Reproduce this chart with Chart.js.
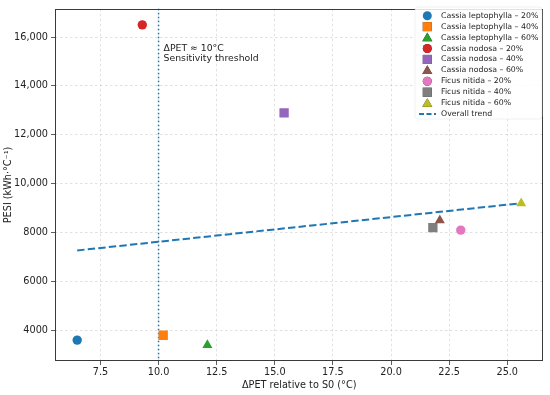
<!DOCTYPE html>
<html>
<head>
<meta charset="utf-8">
<script src="https://cdn.jsdelivr.net/npm/chart.js@4.4.1/dist/chart.umd.min.js"></script>
<style>
  html, body { margin: 0; padding: 0; background: #fff; }
  #wrap { width: 550px; height: 395px; }
</style>
</head>
<body>
<div id="wrap"><canvas id="c" width="550" height="395"></canvas></div>
<script>
// ---- data ----
const seriesLabels = [
  'Cassia leptophylla – 20%', 'Cassia leptophylla – 40%', 'Cassia leptophylla – 60%',
  'Cassia nodosa – 20%', 'Cassia nodosa – 40%', 'Cassia nodosa – 60%',
  'Ficus nitida – 20%', 'Ficus nitida – 40%', 'Ficus nitida – 60%'
];
const deltaPET = [6.5, 10.2, 12.1, 9.3, 15.4, 22.1, 23.0, 21.8, 25.6];
const pesi = [3600, 3800, 3400, 16500, 12900, 8500, 8100, 8200, 9200];
const trendLabel = 'Overall trend';
const trendX = [6.5, 25.6];
const trendY = [7270, 9200];
const thresholdX = 10;
const thresholdText = ['ΔPET ≈ 10°C', 'Sensitivity threshold'];
const xTicks = [7.5, 10.0, 12.5, 15.0, 17.5, 20.0, 22.5, 25.0];
const yTicks = [4000, 6000, 8000, 10000, 12000, 14000, 16000];
const xTitle = 'ΔPET relative to S0 (°C)';
const yTitle = 'PESI (kWh·°C⁻¹)';

// ---- styles ----
const colors = ['#1f77b4', '#ff7f0e', '#2ca02c', '#d62728', '#9467bd', '#8c564b', '#e377c2', '#7f7f7f', '#bcbd22'];
const shapes = ['circle', 'rect', 'triangle', 'circle', 'rect', 'triangle', 'circle', 'rect', 'triangle'];
const shapeRadius = { circle: 4.7, rect: 6.6, triangle: 5.8 };
const FONT = "'DejaVu Sans', sans-serif";

const datasets = seriesLabels.map((lab, i) => ({
  type: 'scatter',
  label: lab,
  data: [{ x: deltaPET[i], y: pesi[i] }],
  pointStyle: shapes[i],
  pointRadius: shapeRadius[shapes[i]],
  pointHoverRadius: shapeRadius[shapes[i]],
  backgroundColor: colors[i],
  borderColor: colors[i],
  borderWidth: 0
}));
datasets.push({
  type: 'line',
  label: trendLabel,
  data: trendX.map((x, i) => ({ x: x, y: trendY[i] })),
  borderColor: '#1f77b4',
  borderWidth: 2,
  borderDash: [7.4, 3.2],
  pointRadius: 0,
  fill: false,
  order: 10
});

const overlay = {
  id: 'overlay',
  beforeDatasetsDraw(chart) {
    const { ctx, chartArea: a, scales: { x, y } } = chart;
    // threshold line
    const px = x.getPixelForValue(thresholdX);
    ctx.save();
    ctx.strokeStyle = '#1f77b4';
    ctx.lineWidth = 1.5;
    ctx.setLineDash([1.5, 2.5]);
    ctx.beginPath();
    ctx.moveTo(px, a.top);
    ctx.lineTo(px, a.bottom);
    ctx.stroke();
    ctx.restore();
  },
  afterDraw(chart) {
    const { ctx, chartArea: a, scales: { x, y } } = chart;
    ctx.save();
    // annotation text
    ctx.fillStyle = '#222';
    ctx.font = '9.3px ' + FONT;
    ctx.textAlign = 'left';
    ctx.textBaseline = 'middle';
    const tx = x.getPixelForValue(thresholdX) + 5;
    const ty = y.getPixelForValue(15540);
    thresholdText.forEach((t, i) => ctx.fillText(t, tx, ty + i * 10.6));
    // frame
    ctx.strokeStyle = '#3a3a3a';
    ctx.lineWidth = 1;
    ctx.setLineDash([]);
    ctx.strokeRect(Math.round(a.left) + 0.5, Math.round(a.top) + 0.5,
                   Math.round(a.right - a.left) - 1, Math.round(a.bottom - a.top) - 1);
    // legend
    const lx = 415, ly = 7, lw = 127, lh = 112;
    ctx.fillStyle = 'rgba(255,255,255,0.85)';
    ctx.beginPath();
    ctx.roundRect(lx, ly, lw, lh, 3);
    ctx.fill();
    ctx.strokeStyle = 'rgba(220,220,220,0.5)';
    ctx.lineWidth = 0.8;
    ctx.stroke();
    const rowY0 = 15.7, rowH = 10.93, mx = 427.3, textX = 441;
    ctx.font = '7.8px ' + FONT;
    ctx.textBaseline = 'middle';
    chart.data.datasets.forEach((ds, i) => {
      const cy = rowY0 + i * rowH;
      if (ds.type === 'line') {
        ctx.strokeStyle = ds.borderColor;
        ctx.lineWidth = 2;
        ctx.setLineDash([5, 2.5]);
        ctx.beginPath();
        ctx.moveTo(419, cy);
        ctx.lineTo(436, cy);
        ctx.stroke();
        ctx.setLineDash([]);
      } else {
        const r = ds.pointStyle === 'circle' ? 4.5 : ds.pointStyle === 'rect' ? 6.4 : 5.8;
        Chart.helpers.drawPoint(ctx, {
          pointStyle: ds.pointStyle, radius: r, rotation: 0, borderWidth: 0
        }, mx, cy + (ds.pointStyle === 'triangle' ? 0.8 : 0));
        ctx.fillStyle = ds.backgroundColor;
        ctx.fill();
      }
      ctx.fillStyle = '#222';
      ctx.fillText(ds.label, textX, cy);
    });
    ctx.restore();
  }
};

function fmtY(v) {
  return v >= 10000 ? v.toLocaleString('en-US') : String(v);
}

new Chart(document.getElementById('c'), {
  type: 'scatter',
  data: { datasets: datasets },
  options: {
    responsive: false,
    animation: false,
    devicePixelRatio: 1,
    layout: { padding: { top: 5, right: 6, left: 0, bottom: 0 } },
    plugins: { legend: { display: false }, tooltip: { enabled: false } },
    scales: {
      x: {
        type: 'linear',
        min: 5.545, max: 26.555,
        afterBuildTicks(s) { s.ticks = xTicks.map(v => ({ value: v })); },
        afterFit(s) { s.height = 34; },
        ticks: {
          padding: 2,
          color: '#222',
          font: { family: FONT, size: 9.7 },
          callback: v => Number(v).toFixed(1)
        },
        grid: {
          color: 'rgba(170,170,170,0.45)',
          lineWidth: 0.8,
          tickColor: '#333',
          tickLength: 4,
          tickWidth: 0.8
        },
        border: { display: false, dash: [2.5, 2.5] },
        title: {
          display: true, text: xTitle, color: '#222',
          font: { family: FONT, size: 9.7 }, padding: { top: 2, bottom: 4 }
        }
      },
      y: {
        type: 'linear',
        min: 2745, max: 17155,
        afterBuildTicks(s) { s.ticks = yTicks.map(v => ({ value: v })); },
        afterFit(s) { s.width = 55; },
        ticks: {
          padding: 3,
          color: '#222',
          font: { family: FONT, size: 9.7 },
          callback: v => fmtY(v)
        },
        grid: {
          color: 'rgba(170,170,170,0.45)',
          lineWidth: 0.8,
          tickColor: '#333',
          tickLength: 4,
          tickWidth: 0.8
        },
        border: { display: false, dash: [2.5, 2.5] },
        title: {
          display: true, text: yTitle, color: '#222',
          font: { family: FONT, size: 9.7 }, padding: { top: 2.5, bottom: 2 }
        }
      }
    }
  },
  plugins: [overlay]
});
</script>
</body>
</html>
